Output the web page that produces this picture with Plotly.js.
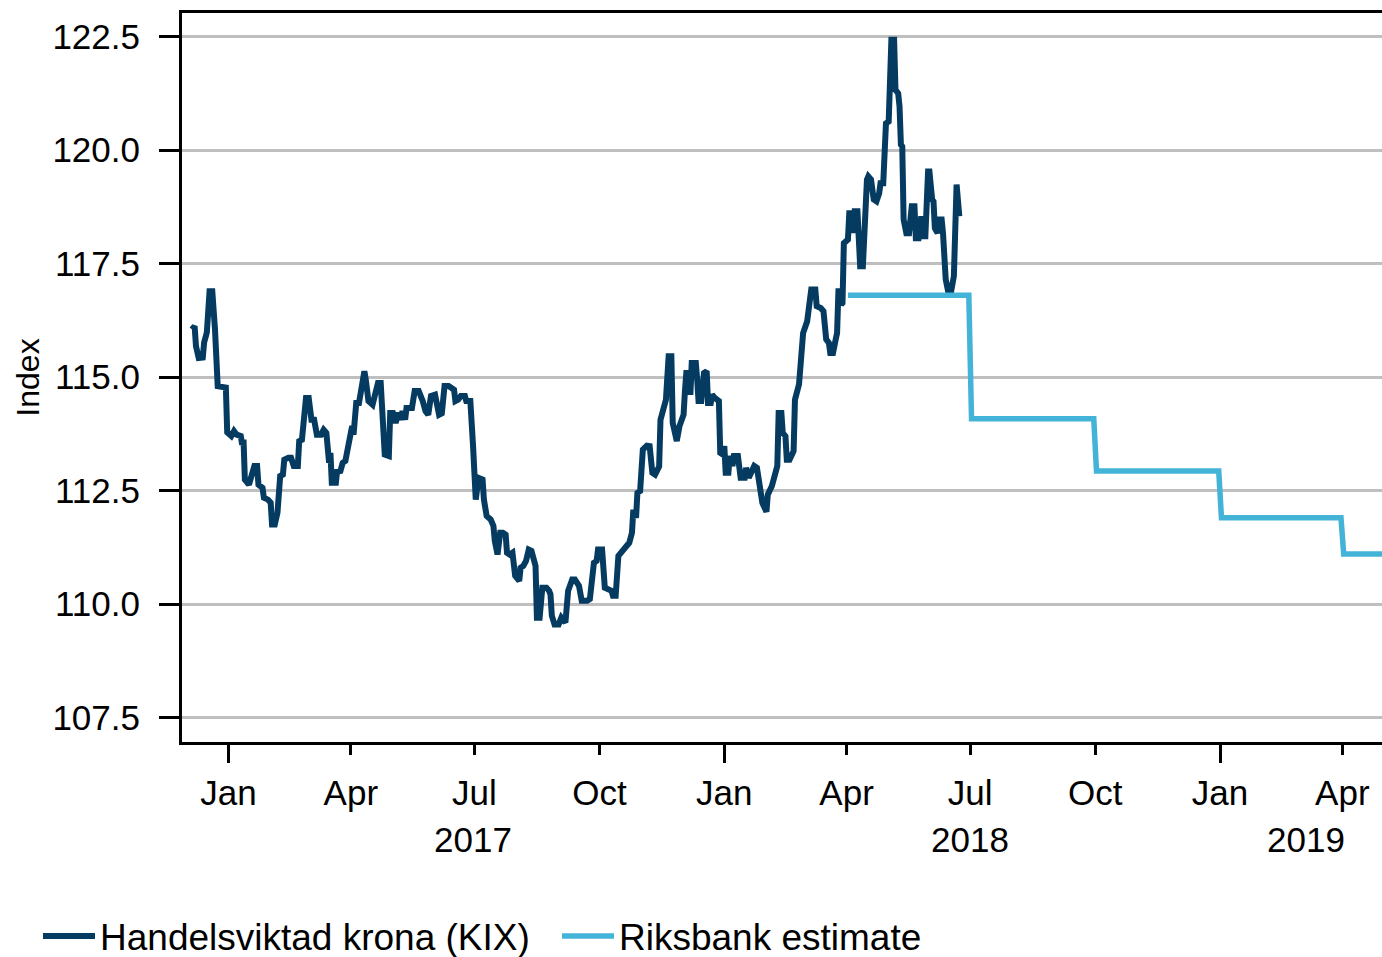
<!DOCTYPE html>
<html>
<head>
<meta charset="utf-8">
<script src="https://cdn.plot.ly/plotly-3.0.1.min.js"></script>
<style>html,body{margin:0;padding:0;background:#fff;}#chart{width:1382px;height:957px;}</style>
</head>
<body>
<div id="chart"></div>
<script>
const kixDates = [
"2016-12-05","2016-12-07","2016-12-08","2016-12-10","2016-12-13","2016-12-14","2016-12-16","2016-12-18","2016-12-20","2016-12-21",
"2016-12-22","2016-12-24","2016-12-27","2016-12-30","2016-12-31","2017-01-03","2017-01-05","2017-01-07","2017-01-10","2017-01-11",
"2017-01-12","2017-01-13","2017-01-16","2017-01-18","2017-01-20","2017-01-22","2017-01-23","2017-01-26","2017-01-27","2017-01-30",
"2017-02-01","2017-02-02","2017-02-04","2017-02-06","2017-02-08","2017-02-10","2017-02-11","2017-02-14","2017-02-16","2017-02-18",
"2017-02-21","2017-02-22","2017-02-24","2017-02-27","2017-03-01","2017-03-03","2017-03-05","2017-03-07","2017-03-10","2017-03-12",
"2017-03-14","2017-03-16","2017-03-17","2017-03-18","2017-03-21","2017-03-22","2017-03-24","2017-03-26","2017-03-28","2017-03-31",
"2017-04-02","2017-04-03","2017-04-05","2017-04-07","2017-04-11","2017-04-12","2017-04-14","2017-04-17","2017-04-19","2017-04-21",
"2017-04-23","2017-04-24","2017-04-26","2017-04-29","2017-04-30","2017-05-02","2017-05-04","2017-05-06","2017-05-08","2017-05-09",
"2017-05-11","2017-05-12","2017-05-16","2017-05-18","2017-05-21","2017-05-24","2017-05-26","2017-05-28","2017-05-30","2017-06-02",
"2017-06-04","2017-06-05","2017-06-07","2017-06-09","2017-06-12","2017-06-16","2017-06-17","2017-06-19","2017-06-21","2017-06-24",
"2017-06-25","2017-06-28","2017-06-30","2017-07-02","2017-07-04","2017-07-07","2017-07-08","2017-07-09","2017-07-10","2017-07-13",
"2017-07-15","2017-07-16","2017-07-18","2017-07-20","2017-07-22","2017-07-24","2017-07-25","2017-07-27","2017-07-29","2017-07-31",
"2017-08-03","2017-08-04","2017-08-06","2017-08-08","2017-08-10","2017-08-12","2017-08-14","2017-08-15","2017-08-16","2017-08-18",
"2017-08-20","2017-08-23","2017-08-25","2017-08-26","2017-08-27","2017-08-29","2017-09-01","2017-09-03","2017-09-06","2017-09-08",
"2017-09-11","2017-09-13","2017-09-16","2017-09-18","2017-09-22","2017-09-24","2017-09-27","2017-09-29","2017-09-30","2017-10-03",
"2017-10-05","2017-10-08","2017-10-10","2017-10-11","2017-10-13","2017-10-15","2017-10-18","2017-10-19","2017-10-21","2017-10-23",
"2017-10-25","2017-10-26","2017-10-28","2017-10-29","2017-10-31","2017-11-02","2017-11-05","2017-11-07","2017-11-09","2017-11-11",
"2017-11-14","2017-11-15","2017-11-17","2017-11-19","2017-11-21","2017-11-23","2017-11-24","2017-11-26","2017-11-27","2017-11-29",
"2017-12-01","2017-12-02","2017-12-03","2017-12-04","2017-12-06","2017-12-07","2017-12-08","2017-12-11","2017-12-12","2017-12-13",
"2017-12-15","2017-12-17","2017-12-19","2017-12-20","2017-12-22","2017-12-23","2017-12-25","2017-12-28","2017-12-29","2017-12-31",
"2018-01-01","2018-01-02","2018-01-04","2018-01-05","2018-01-07","2018-01-08","2018-01-11","2018-01-12","2018-01-13","2018-01-16",
"2018-01-17","2018-01-19","2018-01-21","2018-01-23","2018-01-25","2018-01-27","2018-01-29","2018-02-01","2018-02-02","2018-02-05",
"2018-02-06","2018-02-09","2018-02-10","2018-02-12","2018-02-13","2018-02-15","2018-02-16","2018-02-18","2018-02-21","2018-02-22",
"2018-02-25","2018-02-27","2018-02-28","2018-03-03","2018-03-05","2018-03-06","2018-03-09","2018-03-10","2018-03-13","2018-03-15",
"2018-03-17","2018-03-19","2018-03-20","2018-03-22","2018-03-24","2018-03-25","2018-03-26","2018-03-27","2018-03-28","2018-03-29",
"2018-03-30","2018-04-02","2018-04-03","2018-04-05","2018-04-06","2018-04-07","2018-04-09","2018-04-11","2018-04-13","2018-04-15",
"2018-04-16","2018-04-17","2018-04-19","2018-04-21","2018-04-23","2018-04-25","2018-04-26","2018-04-28","2018-04-29","2018-04-30",
"2018-05-02","2018-05-04","2018-05-06","2018-05-07","2018-05-09","2018-05-10","2018-05-11","2018-05-12","2018-05-13","2018-05-15",
"2018-05-17","2018-05-19","2018-05-21","2018-05-22","2018-05-24","2018-05-25","2018-05-26","2018-05-28","2018-05-29","2018-05-31",
"2018-06-01","2018-06-03","2018-06-04","2018-06-05","2018-06-07","2018-06-08","2018-06-10","2018-06-11","2018-06-13","2018-06-15",
"2018-06-17","2018-06-19","2018-06-20","2018-06-21","2018-06-23"
];
const kixValues = [
116.05,116.12,115.68,115.42,115.43,115.76,115.98,116.89,116.89,116.49,
116.05,114.80,114.80,114.77,113.78,113.70,113.81,113.73,113.70,113.51,
113.62,112.74,112.63,112.82,113.04,113.04,112.63,112.56,112.34,112.30,
112.23,111.75,111.75,112.01,112.82,112.85,113.18,113.22,113.22,113.04,
113.04,113.59,113.62,114.54,114.54,114.06,114.06,113.73,113.73,113.84,
113.77,113.11,113.33,112.67,112.67,112.96,112.89,113.11,113.15,113.62,
113.92,113.73,114.43,114.43,115.13,114.95,114.47,114.39,114.65,114.87,
114.87,114.21,113.29,113.26,114.21,114.21,113.99,114.21,114.06,114.25,
114.06,114.32,114.32,114.69,114.69,114.47,114.25,114.17,114.58,114.61,
114.36,114.17,114.20,114.80,114.80,114.72,114.47,114.50,114.58,114.58,
114.47,114.47,113.48,112.30,112.78,112.74,112.30,112.16,111.94,111.86,
111.72,111.39,111.09,111.57,111.57,111.53,111.13,111.09,111.13,110.62,
110.51,110.80,110.84,110.95,111.20,111.17,110.84,110.84,109.70,109.70,
110.36,110.36,110.29,110.21,109.74,109.55,109.55,109.70,109.59,110.29,
110.54,110.54,110.40,110.07,110.07,110.11,110.91,110.95,111.20,111.20,
110.36,110.32,110.29,110.18,110.18,111.06,111.17,111.17,111.28,111.35,
111.57,112.08,111.90,112.45,112.49,113.40,113.49,113.48,112.89,112.85,
113.03,114.06,114.28,114.50,115.46,115.46,113.99,113.59,113.59,113.92,
114.17,114.17,114.69,115.09,115.09,114.61,115.31,115.31,114.95,114.47,
114.47,115.09,115.13,114.43,114.43,114.61,114.54,114.47,113.33,113.29,
113.48,112.89,112.89,113.26,113.04,113.26,113.26,113.04,112.78,112.78,
113.00,112.78,112.96,113.04,113.00,112.60,112.23,112.03,112.41,112.60,
112.71,113.04,114.21,114.21,113.77,113.70,113.18,113.18,113.37,114.50,
114.84,115.46,115.97,116.23,116.85,116.93,116.93,116.56,116.52,116.45,
115.83,115.75,115.53,115.53,115.83,115.97,116.89,116.89,116.60,116.63,
117.95,118.03,118.61,118.61,118.17,118.65,118.65,117.44,117.44,118.98,
119.35,119.42,119.35,118.91,118.87,119.05,119.27,119.27,120.45,120.59,
120.63,122.43,122.43,121.33,121.25,120.96,120.12,120.08,118.47,118.17,
118.17,118.76,118.76,118.06,118.06,118.54,118.54,118.10,118.10,119.53,
119.53,118.91,118.87,118.28,118.17,118.47,118.47,118.17,117.15,116.85,
116.89,117.22,119.24,119.24,118.54
];
const riksDates = ["2018-04-02","2018-06-30","2018-07-02","2018-09-30","2018-10-02","2018-12-31","2019-01-02","2019-03-31","2019-04-02","2019-05-01"];
const riksValues = [116.8,116.8,114.08,114.08,112.93,112.93,111.9,111.9,111.1,111.1];
const yTicks = [107.5,110.0,112.5,115.0,117.5,120.0,122.5];
const yearLabels = ["2017","2018","2019"];
const yearPositions = ["2017-06-30","2018-07-01","2019-03-05"];
const seriesNames = ["Handelsviktad krona (KIX)","Riksbank estimate"];

const FONT = "Liberation Sans, Arial, Helvetica, sans-serif";
const xRange = ["2016-11-27 17:00","2019-04-30 05:00"];

const traces = [
  {x: kixDates, y: kixValues, type: "scatter", mode: "lines", name: seriesNames[0],
   line: {color: "#053B61", width: 6}, hoverinfo: "x+y"},
  {x: riksDates, y: riksValues, type: "scatter", mode: "lines", name: seriesNames[1],
   line: {color: "#43B4D7", width: 5.5}, hoverinfo: "x+y"},
  {x: riksDates.slice(0,1), y: riksValues.slice(0,1), xaxis: "x2", type: "scatter", mode: "none",
   showlegend: false, hoverinfo: "skip"}
];

const layout = {
  width: 1382, height: 957,
  margin: {l: 182, r: 0, t: 13, b: 215, autoexpand: false},
  paper_bgcolor: "#fff", plot_bgcolor: "#fff",
  font: {family: FONT, size: 35, color: "#000"},
  showlegend: true,
  legend: {orientation: "h", xref: "container", yref: "container", x: 0.0275, xanchor: "left",
           y: 0.0215, yanchor: "middle", entrywidth: 452,
           font: {family: FONT, size: 37, color: "#000"}, itemwidth: 52, bgcolor: "rgba(0,0,0,0)"},
  xaxis: {type: "date", range: xRange, tick0: "2017-01-01", dtick: "M3", tickformat: "%b",
          ticks: "outside", ticklen: 10, tickwidth: 3, tickcolor: "#000",
          showgrid: false, zeroline: false, showline: true, linewidth: 3, linecolor: "#000", mirror: true,
          tickfont: {family: FONT, size: 35, color: "#000"}, ticklabelstandoff: 8},
  xaxis2: {type: "date", range: xRange, overlaying: "x", anchor: "y", side: "bottom",
           tick0: "2017-01-01", dtick: "M12", ticks: "outside", ticklen: 20, tickwidth: 3, tickcolor: "#000",
           showticklabels: false, showgrid: false, zeroline: false, showline: false},
  yaxis: {range: [106.96, 123.02], tickvals: yTicks, tickformat: ".1f",
          ticks: "outside", ticklen: 20, tickwidth: 3, tickcolor: "#000",
          showgrid: true, gridcolor: "#BFBFBF", gridwidth: 3, zeroline: false,
          showline: true, linewidth: 3, linecolor: "#000",
          tickfont: {family: FONT, size: 35, color: "#000"}, ticklabelstandoff: 12,
          title: {text: "Index", font: {family: FONT, size: 32, color: "#000"}, standoff: 4}},
  annotations: yearLabels.map((t, i) => ({
    text: t, x: yearPositions[i], xref: "x", y: -0.1344, yref: "paper",
    yanchor: "middle", xanchor: "center", showarrow: false,
    font: {family: FONT, size: 35, color: "#000"}
  }))
};

Plotly.newPlot("chart", traces, layout, {displayModeBar: false, staticPlot: true});
</script>
</body>
</html>
